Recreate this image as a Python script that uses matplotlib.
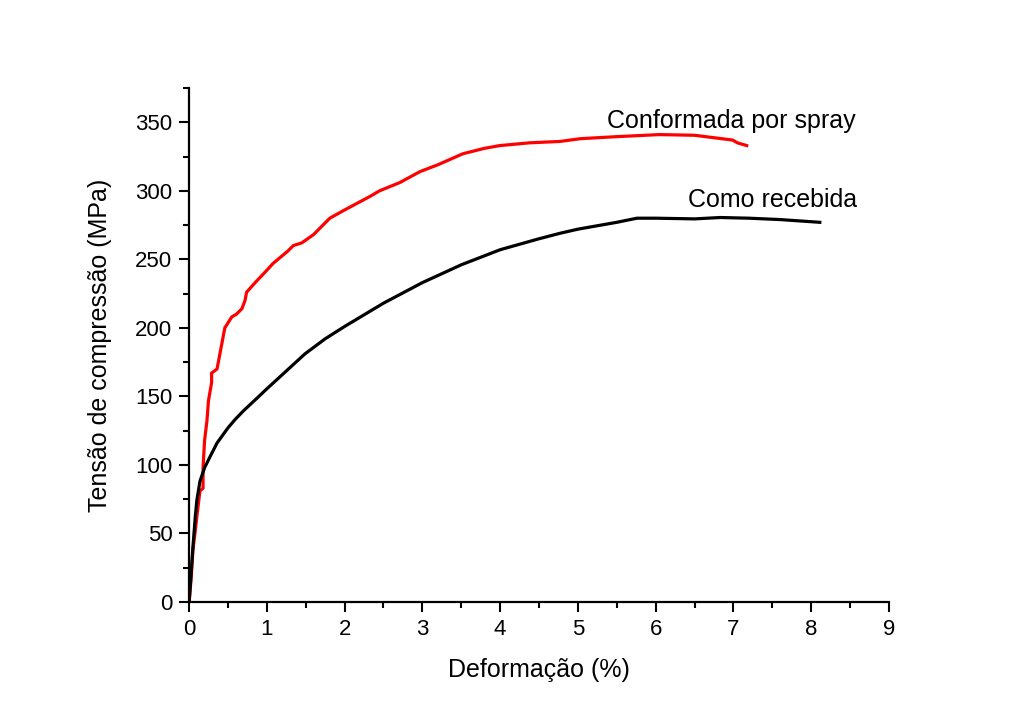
import matplotlib
matplotlib.use('Agg')
import matplotlib.pyplot as plt
from matplotlib.ticker import MultipleLocator

plt.rcParams['font.family'] = ['Liberation Sans', 'DejaVu Sans']

# Como recebida (black)
rec_x = [0, 0.02, 0.05, 0.08, 0.10, 0.14, 0.2, 0.27, 0.36, 0.5, 0.59, 0.7, 0.87, 1.0, 1.25,
         1.49, 1.75, 2.0, 2.5, 3.0, 3.5, 4.0, 4.5, 4.77, 5.0, 5.5, 5.76, 6.0, 6.5,
         6.83, 7.2, 7.6, 8.11]
rec_y = [0, 15, 40, 62, 74, 88, 98, 106, 116, 127, 133, 139.5, 148.5, 155.5, 168.5,
         181, 192, 201, 218, 233, 246, 257, 265, 269, 272, 277, 280, 280, 279.5,
         280.5, 280, 279, 277]

# Conformada por spray (red)
spr_x = [0, 0.01, 0.03, 0.05, 0.08, 0.1, 0.14, 0.18, 0.18, 0.2, 0.23, 0.25, 0.29,
         0.29, 0.36, 0.41, 0.46, 0.55, 0.61, 0.68, 0.72, 0.74, 0.85, 1.0, 1.08,
         1.27, 1.34, 1.45, 1.6, 1.81, 2.0, 2.33, 2.45, 2.71, 2.97, 3.2, 3.52, 3.8,
         4.0, 4.38, 4.77, 5.03, 5.5, 6.05, 6.5, 6.99, 7.05, 7.17]
spr_y = [0, 5, 20, 38, 52, 62, 81, 83, 98, 118, 132, 147, 160,
         167, 170, 185, 200, 208, 210, 214, 220, 226, 233, 242, 247,
         256, 260, 262, 268, 280, 286, 296, 300, 306, 314, 319, 327, 331,
         333, 335, 336, 338, 339.5, 341, 340.5, 337, 335, 333]

labels = ['Conformada por spray', 'Como recebida']

fig = plt.figure(figsize=(10.18, 7.2), dpi=100)
ax = fig.add_axes([0.1857, 0.1639, 0.6876, 0.7139])

ax.plot(spr_x, spr_y, color='#ff0000', lw=2.3)
ax.plot(rec_x, rec_y, color='black', lw=2.3)

ax.text(5.37, 351, labels[0], fontsize=18, va='center', ha='left')
ax.text(6.41, 293, labels[1], fontsize=18, va='center', ha='left')

ax.set_xlim(0, 9)
ax.set_ylim(0, 375)
ax.xaxis.set_major_locator(MultipleLocator(1))
ax.xaxis.set_minor_locator(MultipleLocator(0.5))
ax.yaxis.set_major_locator(MultipleLocator(50))
ax.yaxis.set_minor_locator(MultipleLocator(25))

for s in ['top', 'right']:
    ax.spines[s].set_visible(False)
for s in ['left', 'bottom']:
    ax.spines[s].set_linewidth(1.6)

ax.tick_params(which='major', direction='out', length=7, width=1.5, labelsize=16, pad=5)
ax.tick_params(which='minor', direction='out', length=4, width=1.5)

ax.set_xlabel('Deformação (%)', fontsize=18, labelpad=13)
ax.set_ylabel('Tensão de compressão (MPa)', fontsize=18, labelpad=17)

fig.savefig('out.png', dpi=100)
